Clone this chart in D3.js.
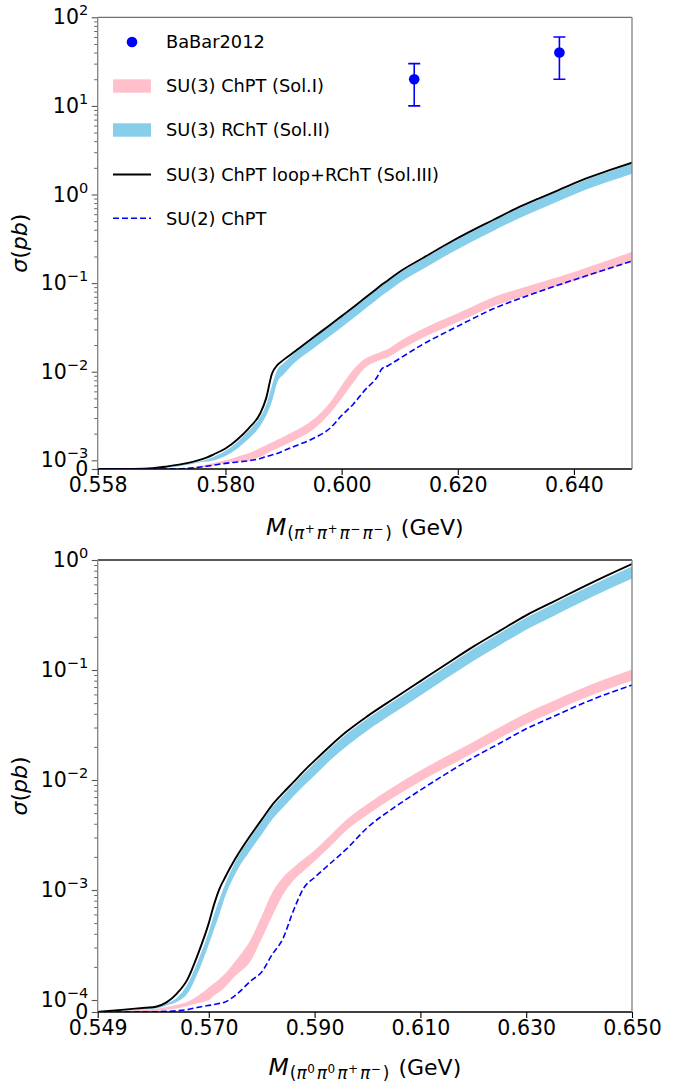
<!DOCTYPE html>
<html lang="en">
<head>
<meta charset="UTF-8">
<title>Cross sections</title>
<script src="https://d3js.org/d3.v7.min.js"></script>
<style>
    body { margin: 0; background: #fff; }
    svg { display: block; font-family: "DejaVu Sans", sans-serif; }
</style>
</head>
<body>
<script>
    // ---- top panel: pi+ pi+ pi- pi- ----
    const massTop = [0.558, 0.562, 0.566, 0.570, 0.572, 0.574, 0.576, 0.578, 0.580, 0.582,
        0.584, 0.586, 0.587, 0.588, 0.589, 0.590, 0.592, 0.595, 0.598, 0.600,
        0.602, 0.604, 0.606, 0.607, 0.608, 0.610, 0.614, 0.618, 0.622, 0.626,
        0.630, 0.634, 0.638, 0.642, 0.646, 0.650];
    const solIIITop = [0, 0, 3e-5, 3e-4, 5e-4, 7.6e-4, 1.03e-3, 1.17e-3, 1.36e-3, 1.71e-3,
        2.3e-3, 3.4e-3, 5.0e-3, 9.5e-3, 1.2e-2, 1.36e-2, 1.7e-2, 2.4e-2, 3.37e-2, 4.24e-2,
        5.33e-2, 6.78e-2, 8.6e-2, 9.7e-2, 0.108, 0.1345, 0.192, 0.273, 0.378, 0.512,
        0.692, 0.904, 1.17, 1.51, 1.87, 2.29];
    const solIITopHi = [0, 0, 2e-5, 2.2e-4, 4.2e-4, 6.6e-4, 9.3e-4, 1.1e-3, 1.28e-3, 1.6e-3,
        2.15e-3, 3.1e-3, 4.2e-3, 7.0e-3, 1.08e-2, 1.25e-2, 1.65e-2, 2.33e-2, 3.27e-2, 4.11e-2,
        5.17e-2, 6.58e-2, 8.34e-2, 9.4e-2, 0.105, 0.130, 0.186, 0.265, 0.367, 0.497,
        0.671, 0.877, 1.13, 1.46, 1.81, 2.22];
    const solIITopLo = [0, 0, 1e-5, 1.4e-4, 3.2e-4, 5.4e-4, 8e-4, 9.8e-4, 1.12e-3, 1.35e-3,
        1.75e-3, 2.45e-3, 3.2e-3, 4.6e-3, 7.8e-3, 9.3e-3, 1.28e-2, 1.8e-2, 2.53e-2, 3.18e-2,
        4.0e-2, 5.09e-2, 6.45e-2, 7.28e-2, 8.1e-2, 0.101, 0.144, 0.205, 0.284, 0.384,
        0.519, 0.678, 0.878, 1.13, 1.40, 1.72];
    const solITopHi = [0, 0, 0, 0, 3e-5, 1.5e-4, 4e-4, 7e-4, 1e-3, 1.1e-3,
        1.2e-3, 1.38e-3, 1.48e-3, 1.6e-3, 1.72e-3, 1.85e-3, 2.15e-3, 2.85e-3, 4.5e-3, 7e-3,
        1.05e-2, 1.4e-2, 1.6e-2, 1.7e-2, 1.8e-2, 2.2e-2, 3.05e-2, 4.0e-2, 5.25e-2, 6.9e-2,
        8.4e-2, 0.101, 0.121, 0.148, 0.182, 0.226];
    const solITopLo = [0, 0, 0, 0, 0, 3e-5, 1.5e-4, 4e-4, 7e-4, 8.5e-4,
        9.5e-4, 1.1e-3, 1.18e-3, 1.28e-3, 1.37e-3, 1.47e-3, 1.7e-3, 2.2e-3, 3.4e-3, 5e-3,
        7.5e-3, 1.1e-2, 1.3e-2, 1.38e-2, 1.46e-2, 1.75e-2, 2.42e-2, 3.18e-2, 4.15e-2, 5.45e-2,
        6.65e-2, 0.08, 0.095, 0.117, 0.143, 0.178];
    const su2Top = [0, 0, 0, 0, 2e-5, 1e-4, 2.5e-4, 4.5e-4, 6.5e-4, 8e-4,
        9.5e-4, 1.05e-3, 1.1e-3, 1.15e-3, 1.2e-3, 1.28e-3, 1.45e-3, 1.75e-3, 2.3e-3, 3.2e-3,
        4.3e-3, 6.2e-3, 8.5e-3, 1.09e-2, 1.17e-2, 1.41e-2, 2.04e-2, 2.8e-2, 3.8e-2, 5.1e-2,
        6.46e-2, 8.0e-2, 9.86e-2, 0.12, 0.146, 0.177];

    const babarMass = [0.6125, 0.6375];
    const babarSigma = [20, 40];
    const babarErr = [10, 20];

    // ---- bottom panel: pi0 pi0 pi+ pi- ----
    const massBot = [0.549, 0.554, 0.558, 0.560, 0.562, 0.564, 0.566, 0.568, 0.570, 0.571,
        0.572, 0.573, 0.575, 0.578, 0.580, 0.582, 0.584, 0.586, 0.588, 0.590,
        0.593, 0.596, 0.600, 0.605, 0.610, 0.615, 0.620, 0.625, 0.630, 0.635,
        0.640, 0.645, 0.650];
    const solIIIBot = [0, 0.2e-4, 0.36e-4, 0.44e-4, 0.8e-4, 1.15e-4, 1.55e-4, 2.65e-4, 5.0e-4, 7.4e-4,
        1.02e-3, 1.28e-3, 1.92e-3, 3.2e-3, 4.36e-3, 5.95e-3, 7.6e-3, 9.55e-3, 0.0121, 0.015,
        0.0205, 0.0274, 0.0381, 0.0551, 0.0793, 0.114, 0.163, 0.227, 0.314, 0.414,
        0.546, 0.713, 0.92];
    const solIIBotHi = [0, 0.15e-4, 0.3e-4, 0.4e-4, 0.7e-4, 1.05e-4, 1.4e-4, 2.3e-4, 4.2e-4, 6.0e-4,
        8.2e-4, 1.1e-3, 1.8e-3, 3.05e-3, 4.15e-3, 5.65e-3, 7.2e-3, 9.1e-3, 0.0115, 0.0143,
        0.0195, 0.026, 0.0362, 0.0523, 0.0753, 0.108, 0.155, 0.216, 0.298, 0.393,
        0.519, 0.677, 0.874];
    const solIIBotLo = [0, 0.1e-4, 0.22e-4, 0.3e-4, 0.55e-4, 0.85e-4, 1.15e-4, 1.8e-4, 3.2e-4, 4.4e-4,
        6.0e-4, 8.5e-4, 1.4e-3, 2.35e-3, 3.2e-3, 4.4e-3, 5.6e-3, 7.1e-3, 0.0089, 0.011,
        0.0152, 0.0202, 0.0282, 0.0408, 0.0587, 0.0844, 0.121, 0.168, 0.232, 0.306,
        0.404, 0.528, 0.68];
    const solIBotHi = [0, 0.08e-4, 0.2e-4, 0.28e-4, 0.42e-4, 0.6e-4, 0.85e-4, 1.1e-4, 1.3e-4, 1.42e-4,
        1.55e-4, 1.72e-4, 2.25e-4, 3.6e-4, 5.8e-4, 9.5e-4, 1.3e-3, 1.6e-3, 1.92e-3, 2.3e-3,
        3.15e-3, 4.35e-3, 6.05e-3, 8.75e-3, 0.0122, 0.0165, 0.0222, 0.0301, 0.0404, 0.0519,
        0.0664, 0.0827, 0.101];
    const solIBotLo = [0, 0, 0.02e-4, 0.06e-4, 0.18e-4, 0.3e-4, 0.5e-4, 0.75e-4, 0.98e-4, 1.1e-4,
        1.18e-4, 1.3e-4, 1.65e-4, 2.3e-4, 3.6e-4, 5.8e-4, 9e-4, 1.22e-3, 1.5e-3, 1.83e-3,
        2.5e-3, 3.48e-3, 4.82e-3, 6.96e-3, 9.7e-3, 0.0131, 0.0177, 0.024, 0.0322, 0.0413,
        0.053, 0.0659, 0.080];
    const su2Bot = [0, 0, 0, 0.02e-4, 0.05e-4, 0.1e-4, 0.2e-4, 0.4e-4, 0.55e-4, 0.62e-4,
        0.72e-4, 0.82e-4, 1.1e-4, 1.5e-4, 1.8e-4, 2.6e-4, 3.6e-4, 6.5e-4, 1.05e-3, 1.3e-3,
        1.75e-3, 2.35e-3, 3.7e-3, 5.6e-3, 8.1e-3, 0.0115, 0.016, 0.0216, 0.0292, 0.0375,
        0.0481, 0.06, 0.073];

    const xTicksTop = [0.558, 0.580, 0.600, 0.620, 0.640];
    const xTicksBot = [0.549, 0.570, 0.590, 0.610, 0.630, 0.650];
    const yTicksTop = [0, 1e-3, 1e-2, 1e-1, 1, 10, 100];
    const yTicksBot = [0, 1e-4, 1e-3, 1e-2, 1e-1, 1];

    const legendLabels = ["BaBar2012", "SU(3) ChPT (Sol.I)", "SU(3) RChT (Sol.II)",
        "SU(3) ChPT loop+RChT (Sol.III)", "SU(2) ChPT"];

    const PINK = "#ffc0cb", SKY = "#87ceeb", BLUE = "#0000ff";
    const width = 676, height = 1082;

    const svg = d3.select("body").append("svg")
        .attr("width", width).attr("height", height);

    // matplotlib style symlog: linear below linthresh, log above
    function symlog(lin, ls) {
        return v => v <= lin ? v / lin * ls : ls + Math.log10(v / lin);
    }

    function drawPanel(p) {
        const t = symlog(p.lin, p.ls);
        const x = d3.scaleLinear().domain([p.xmin, p.xmax]).range([p.left, p.right]);
        const y = d3.scaleLinear().domain([0, t(p.ymax)]).range([p.bottom, p.top]);
        const g = svg.append("g");

        const clipId = "clip" + p.id;
        g.append("clipPath").attr("id", clipId).append("rect")
            .attr("x", p.left).attr("y", p.top)
            .attr("width", p.right - p.left).attr("height", p.bottom - p.top);

        const plot = g.append("g").attr("clip-path", `url(#${clipId})`);
        const rows = p.mass.map((m, i) => ({
            m: m, aLo: p.solILo[i], aHi: p.solIHi[i], bLo: p.solIILo[i], bHi: p.solIIHi[i],
            c: p.solIII[i], d: p.su2[i]
        }));

        const band = (lo, hi) => d3.area().curve(d3.curveMonotoneX)
            .x(d => x(d.m)).y0(d => y(t(d[lo]))).y1(d => y(t(d[hi])));
        const line = key => d3.line().curve(d3.curveMonotoneX)
            .x(d => x(d.m)).y(d => y(t(d[key])));

        plot.append("path").datum(rows).attr("d", band("aLo", "aHi")).attr("fill", PINK);
        plot.append("path").datum(rows).attr("d", band("bLo", "bHi")).attr("fill", SKY);
        plot.append("path").datum(rows).attr("d", line("c"))
            .attr("fill", "none").attr("stroke", "#000").attr("stroke-width", 1.9);
        plot.append("path").datum(rows).attr("d", line("d"))
            .attr("fill", "none").attr("stroke", BLUE).attr("stroke-width", 1.6)
            .attr("stroke-dasharray", "6,3");

        if (p.babar) {
            const pts = babarMass.map((m, i) => ({m: m, s: babarSigma[i], e: babarErr[i]}));
            const eb = plot.selectAll("g.eb").data(pts).enter().append("g")
                .attr("stroke", BLUE).attr("stroke-width", 1.6);
            eb.append("line").attr("x1", d => x(d.m)).attr("x2", d => x(d.m))
                .attr("y1", d => y(t(d.s - d.e))).attr("y2", d => y(t(d.s + d.e)));
            [-1, 1].forEach(sg => {
                eb.append("line").attr("x1", d => x(d.m) - 6).attr("x2", d => x(d.m) + 6)
                    .attr("y1", d => y(t(d.s + sg * d.e))).attr("y2", d => y(t(d.s + sg * d.e)));
            });
            plot.selectAll("circle.pt").data(pts).enter().append("circle")
                .attr("cx", d => x(d.m)).attr("cy", d => y(t(d.s))).attr("r", 5.3)
                .attr("fill", BLUE);
        }

        // minor y ticks
        const minors = [];
        for (let k = Math.round(Math.log10(p.lin)); k < Math.log10(p.ymax); k++) {
            for (let j = 2; j <= 9; j++) minors.push(j * Math.pow(10, k));
        }
        const gMinor = g.append("g").attr("transform", `translate(${p.left},0)`)
            .call(d3.axisLeft(y).tickValues(minors.map(t)).tickSize(3.5).tickFormat(""));
        gMinor.select(".domain").remove();
        gMinor.selectAll("line").attr("stroke", "#555").attr("stroke-width", 0.9);

        // major y ticks
        const gy = g.append("g").attr("transform", `translate(${p.left},0)`)
            .call(d3.axisLeft(y).tickValues(p.yTicks.map(t)).tickSize(6).tickPadding(3.5)
                .tickFormat(""));
        gy.select(".domain").remove();
        gy.selectAll("line").attr("stroke", "#555").attr("stroke-width", 1.1);
        gy.selectAll(".tick text").each(function(d, i) {
            const v = p.yTicks[i];
            const txt = d3.select(this).attr("font-size", 20.5).attr("fill", "#000")
                .attr("font-family", "DejaVu Sans");
            if (v === 0) { txt.text("0"); return; }
            const e = Math.round(Math.log10(v));
            txt.append("tspan").text("10");
            txt.append("tspan").attr("font-size", 14.5).attr("dy", -9)
                .text(e < 0 ? "\u2212" + (-e) : String(e));
        });

        // x ticks
        const gx = g.append("g").attr("transform", `translate(0,${p.bottom})`)
            .call(d3.axisBottom(x).tickValues(p.xTicks).tickSize(6).tickPadding(2)
                .tickFormat(d3.format(".3f")));
        gx.select(".domain").remove();
        gx.selectAll("line").attr("stroke", "#000").attr("stroke-width", 1.1);
        gx.selectAll("text").attr("font-size", 20.5).attr("fill", "#000")
            .attr("font-family", "DejaVu Sans");

        // spines
        const spine = (x1, y1, x2, y2, c) => g.append("line")
            .attr("x1", x1).attr("y1", y1).attr("x2", x2).attr("y2", y2)
            .attr("stroke", c).attr("stroke-width", 1.3);
        spine(p.left, p.top, p.right, p.top, p.topColor);
        spine(p.left, p.bottom, p.right, p.bottom, "#000");
        spine(p.left, p.top, p.left, p.bottom, "#808080");
        spine(p.right, p.top, p.right, p.bottom, "#808080");

        // y label
        const yl = g.append("text")
            .attr("transform", `translate(27,${(p.top + p.bottom) / 2}) rotate(-90)`)
            .attr("text-anchor", "middle").attr("font-size", 22);
        yl.append("tspan").attr("font-style", "italic").text("\u03c3");
        yl.append("tspan").text("(");
        yl.append("tspan").attr("font-style", "italic").text("pb");
        yl.append("tspan").text(")");

        // x label with sub/superscripts
        const xl = g.append("text").attr("x", (p.left + p.right) / 2).attr("y", p.xLabelY)
            .attr("text-anchor", "middle").attr("font-size", 22);
        let prev = 0;
        p.xLabel.forEach(([s, size, off, it, dx]) => {
            xl.append("tspan").attr("font-size", size).attr("dy", off - prev)
                .attr("dx", dx || null)
                .attr("font-style", it ? "italic" : null).text(s);
            prev = off;
        });
    }

    const sub = (s, it, dx) => [s, 17, 4, it, dx];
    const sup = s => [s, 12, -2, false, 0.5];

    drawPanel({
        id: "top", left: 97.7, right: 632, top: 17.3, bottom: 469,
        xmin: 0.558, xmax: 0.650, lin: 1e-3, ls: 0.098, ymax: 100,
        mass: massTop, solIII: solIIITop, solIIHi: solIITopHi, solIILo: solIITopLo,
        solIHi: solITopHi, solILo: solITopLo, su2: su2Top,
        xTicks: xTicksTop, yTicks: yTicksTop, topColor: "#707070", babar: true,
        xLabelY: 535,
        xLabel: [["M", 23.5, 0, true], sub("(", false, 1), sub("\u03c0", true), sup("+"),
            sub("\u03c0", true, 2), sup("+"), sub("\u03c0", true, 2), sup("\u2212"),
            sub("\u03c0", true, 2), sup("\u2212"), sub(")", false, 2),
            ["\u00a0(GeV)", 22, 0, false, 2]]
    });

    drawPanel({
        id: "bot", left: 97.7, right: 632, top: 560, bottom: 1012,
        xmin: 0.549, xmax: 0.650, lin: 1e-4, ls: 0.109, ymax: 1,
        mass: massBot, solIII: solIIIBot, solIIHi: solIIBotHi, solIILo: solIIBotLo,
        solIHi: solIBotHi, solILo: solIBotLo, su2: su2Bot,
        xTicks: xTicksBot, yTicks: yTicksBot, topColor: "#222", babar: false,
        xLabelY: 1075,
        xLabel: [["M", 23.5, 0, true], sub("(", false, 1), sub("\u03c0", true), sup("0"),
            sub("\u03c0", true, 2), sup("0"), sub("\u03c0", true, 2), sup("+"),
            sub("\u03c0", true, 2), sup("\u2212"), sub(")", false, 2),
            ["\u00a0(GeV)", 22, 0, false, 2]]
    });

    // legend (top panel)
    const lg = svg.append("g").attr("font-size", 17.8);
    const rowY = [42, 86, 130, 174.5, 218.3];
    lg.append("circle").attr("cx", 132).attr("cy", rowY[0]).attr("r", 5.3).attr("fill", BLUE);
    lg.append("rect").attr("x", 113).attr("y", rowY[1] - 6.7).attr("width", 38).attr("height", 13.4)
        .attr("fill", PINK);
    lg.append("rect").attr("x", 113).attr("y", rowY[2] - 6.7).attr("width", 38).attr("height", 13.4)
        .attr("fill", SKY);
    lg.append("line").attr("x1", 113).attr("x2", 151).attr("y1", rowY[3]).attr("y2", rowY[3])
        .attr("stroke", "#000").attr("stroke-width", 1.9);
    lg.append("line").attr("x1", 113).attr("x2", 151).attr("y1", rowY[4]).attr("y2", rowY[4])
        .attr("stroke", BLUE).attr("stroke-width", 1.6).attr("stroke-dasharray", "6,3");
    lg.selectAll("text").data(legendLabels).enter().append("text")
        .attr("x", 166).attr("y", (d, i) => rowY[i] + 6.4).text(d => d);
</script>
</body>
</html>
